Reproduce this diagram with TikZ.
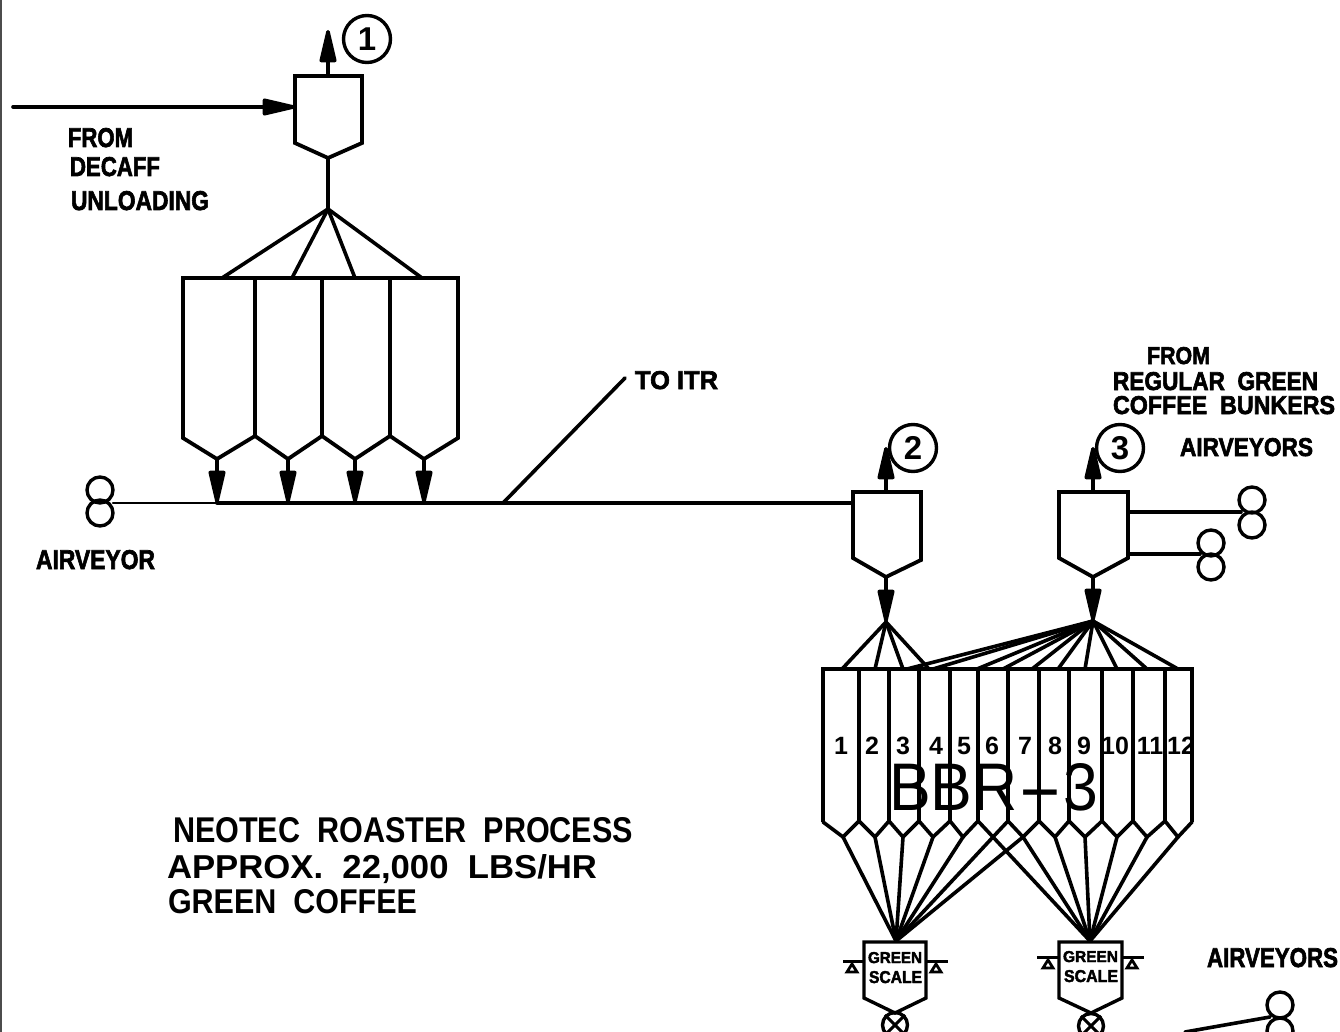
\documentclass[tikz,border=0pt]{standalone}
\usepackage{fontspec}
\usepackage{graphicx}
\usetikzlibrary{arrows.meta}
\setmainfont{Liberation Sans}
\newfontfamily\cadbold[FakeBold=2.5]{Liberation Sans Bold}
\newfontfamily\cadreg{Liberation Sans Bold}
\newfontfamily\cadthin{Liberation Sans}
\tikzset{
  pipe/.style={line width=3.6pt,line join=round,line cap=round},
  thinpipe/.style={line width=2.2pt,line join=round,line cap=round},
  vessel/.style={line width=3.8pt,line join=miter,fill=white},
  flowhead/.style={-{Triangle[length=39pt,width=17pt,round]}},
  txt/.style={anchor=base west,inner sep=0pt,outer sep=0pt,text=black},
  blower/.style={draw,circle,line width=3.4pt,minimum size=26pt,inner sep=0pt},
  tagc/.style={draw,circle,line width=3.4pt,minimum size=47pt,inner sep=0pt,font=\cadreg\fontsize{33}{33}\selectfont},
  bnum/.style={inner sep=0pt,anchor=base,font=\cadreg\fontsize{25}{25}\selectfont},
  weigh/.style={line width=3pt},
  pantri/.style={line width=2.8pt,line join=miter},
  valve/.style={draw,circle,line width=3.4pt,minimum size=25pt,inner sep=0pt},
}
\newcommand{\lbl}[7]{\node[txt] (#1) at (#2,#3) {\resizebox{#4pt}{#5pt}{#6#7}};}
\begin{document}
\begin{tikzpicture}[x=1pt,y=-1pt]
\useasboundingbox (0,0) rectangle (1340,1032);
\clip (0,0) rectangle (1340,1032);
\fill[white] (0,0) rectangle (1340,1032);
\coordinate (bl1) at (0.7,0); \coordinate (bl2) at (0.7,1032);
\draw[line width=1.6pt,black!70] (bl1) -- (bl2);

% ---------- cyclone 1
\coordinate (c1tl) at (295,76);  \coordinate (c1tr) at (362,76);
\coordinate (c1sr) at (362,143); \coordinate (c1t) at (328,158);
\coordinate (c1sl) at (295,143); \coordinate (c1top) at (328,76);
\coordinate (c1up) at (328,30);  \coordinate (c1in) at (13,107);
\coordinate (c1inr) at (295,107);
\coordinate (f1) at (328,209);
\draw[vessel] (c1tl) -- (c1tr) -- (c1sr) -- (c1t) -- (c1sl) -- cycle;
\draw[pipe,flowhead] (c1top) -- (c1up);
\draw[pipe,flowhead] (c1in) -- (c1inr);
\draw[pipe] (c1t) -- (f1);
\node[tagc] (m1) at (367,39) {1};
\foreach \n/\x in {a/222,b/292,c/355,d/422}{
  \coordinate (f1\n) at (\x,278);
  \draw[pipe] (f1) -- (f1\n);
}
% ---------- bins A
\coordinate (b0) at (183,278); \coordinate (b4) at (458,278);
\coordinate (s0) at (183,438); \coordinate (s4) at (458,438);
\coordinate (h1) at (217,459); \coordinate (h2) at (288,459);
\coordinate (h3) at (355,459); \coordinate (h4) at (424,459);
\coordinate (s1) at (255,436); \coordinate (s2) at (322,436); \coordinate (s3) at (390,436);
\coordinate (u1) at (255,278); \coordinate (u2) at (322,278); \coordinate (u3) at (390,278);
\draw[vessel,fill=none] (s0) -- (b0) -- (b4) -- (s4) -- (h4) -- (s3) -- (h3) -- (s2) -- (h2) -- (s1) -- (h1) -- cycle;
\draw[pipe] (u1) -- (s1);
\draw[pipe] (u2) -- (s2);
\draw[pipe] (u3) -- (s3);

% ---------- main conveying line
\coordinate (l0) at (113,503); \coordinate (l1) at (217,503);
\coordinate (l2) at (853,503); \coordinate (itrj) at (503,503);
\coordinate (itre) at (625,378);
\coordinate (l1b) at (288,503); \coordinate (l1c) at (355,503); \coordinate (l1d) at (424,503);
\draw[thinpipe] (l0) -- (l1);
\draw[pipe] (l1) -- (l2);
\draw[pipe] (itrj) -- (itre);
\draw[pipe,flowhead] (h1) -- (l1);
\draw[pipe,flowhead] (h2) -- (l1b);
\draw[pipe,flowhead] (h3) -- (l1c);
\draw[pipe,flowhead] (h4) -- (l1d);
\node[blower] (av1) at (100,490) {};
\node[blower] (av2) at (100,513) {};

% ---------- cyclone 2
\coordinate (c2tl) at (853,492); \coordinate (c2tr) at (921,492);
\coordinate (c2sr) at (921,560); \coordinate (c2t) at (886,577);
\coordinate (c2sl) at (853,558); \coordinate (c2top) at (886,492);
\coordinate (c2up) at (886,447); \coordinate (f2) at (886,622);
\draw[vessel] (c2tl) -- (c2tr) -- (c2sr) -- (c2t) -- (c2sl) -- cycle;
\draw[pipe,flowhead] (c2top) -- (c2up);
\draw[pipe,flowhead] (c2t) -- (f2);
\node[tagc] (m2) at (913,448) {2};

% ---------- cyclone 3
\coordinate (c3tl) at (1059,492); \coordinate (c3tr) at (1128,492);
\coordinate (c3sr) at (1128,558); \coordinate (c3t) at (1093,577);
\coordinate (c3sl) at (1059,558); \coordinate (c3top) at (1093,492);
\coordinate (c3up) at (1093,447); \coordinate (f3) at (1093,621);
\draw[vessel] (c3tl) -- (c3tr) -- (c3sr) -- (c3t) -- (c3sl) -- cycle;
\draw[pipe,flowhead] (c3top) -- (c3up);
\draw[pipe,flowhead] (c3t) -- (f3);
\node[tagc] (m3) at (1120,448) {3};
\coordinate (c3r1) at (1128,512); \coordinate (c3r2) at (1128,554);
\coordinate (av3j) at (1241,512); \coordinate (av5j) at (1200,554);
\draw[pipe] (c3r1) -- (av3j);
\draw[pipe] (c3r2) -- (av5j);
\node[blower] (av3) at (1252,500) {};
\node[blower] (av4) at (1252,525) {};
\node[blower] (av5) at (1211,543) {};
\node[blower] (av6) at (1211,567) {};

% ---------- fans into BBR-3
\foreach \i/\x in {1/842,2/875,3/903,4/929}{
  \coordinate (g\i) at (\x,669);
  \draw[pipe] (f2) -- (g\i);
}
\foreach \i/\x in {1/907,2/933,3/977,4/1003,5/1032,6/1058,7/1085,8/1117,9/1147,10/1178}{
  \coordinate (k\i) at (\x,669);
  \draw[pipe] (f3) -- (k\i);
}

% ---------- BBR-3 bins
\coordinate (bt0) at (823,669); \coordinate (bt12) at (1192,669);
\coordinate (bs0) at (823,822); \coordinate (bs12) at (1192,822);
\draw[vessel,fill=none] (bs0) -- (bt0) -- (bt12) -- (bs12);
\foreach \i/\x in {1/859,2/889,3/919,4/950,5/978,6/1008,7/1039,8/1069,9/1102,10/1133,11/1165}{
  \coordinate (bt\i) at (\x,669);
  \coordinate (bs\i) at (\x,821);
  \draw[pipe] (bt\i) -- (bs\i);
}
\foreach \i/\x in {1/843,2/875,3/903,4/933,5/963,6/993,7/1023,8/1055,9/1085,10/1117,11/1147,12/1178}{
  \coordinate (bh\i) at (\x,837);
}
\foreach \i [evaluate=\i as \p using int(\i-1)] in {1,...,12}{
  \draw[pipe] (bs\p) -- (bh\i) -- (bs\i);
}
% ---------- chutes to scales
\coordinate (sc1) at (896,941); \coordinate (sc2) at (1090,941);
\foreach \i in {1,...,7}{ \draw[pipe] (bh\i) -- (sc1); }
\foreach \i in {6,...,12}{ \draw[pipe] (bh\i) -- (sc2); }

% ---------- scale 1
\coordinate (s1tl) at (864,942); \coordinate (s1tr) at (926,942);
\coordinate (s1sr) at (926,998); \coordinate (s1t) at (895,1013);
\coordinate (s1sl) at (864,998);
\draw[vessel,line width=3.4pt] (s1tl) -- (s1tr) -- (s1sr) -- (s1t) -- (s1sl) -- cycle;
\coordinate (s1b1) at (843,961); \coordinate (s1b2) at (864,961);
\coordinate (s1b3) at (926,961); \coordinate (s1b4) at (948,961);
\draw[weigh] (s1b1) -- (s1b2);
\draw[weigh] (s1b3) -- (s1b4);
\draw[pantri] (852,964) -- (857,972) -- (847,972) -- cycle;
\draw[pantri] (936,964) -- (941,972) -- (931,972) -- cycle;
\lbl{sg1}{868}{963}{54}{11}{\cadbold}{GREEN}
\lbl{ss1}{869}{983}{53}{12}{\cadbold}{SCALE}
\node[valve] (x1) at (895,1025) {};
\draw[line width=3pt] (x1.north west) -- (x1.south east);
\draw[line width=3pt] (x1.north east) -- (x1.south west);

% ---------- scale 2
\coordinate (s2tl) at (1059,942); \coordinate (s2tr) at (1122,942);
\coordinate (s2sr) at (1122,998); \coordinate (s2t) at (1091,1013);
\coordinate (s2sl) at (1059,998);
\draw[vessel,line width=3.4pt] (s2tl) -- (s2tr) -- (s2sr) -- (s2t) -- (s2sl) -- cycle;
\coordinate (s2b1) at (1037,957); \coordinate (s2b2) at (1059,957);
\coordinate (s2b3) at (1122,957); \coordinate (s2b4) at (1144,957);
\draw[weigh] (s2b1) -- (s2b2);
\draw[weigh] (s2b3) -- (s2b4);
\draw[pantri] (1048,960) -- (1053,968) -- (1043,968) -- cycle;
\draw[pantri] (1132,960) -- (1137,968) -- (1127,968) -- cycle;
\lbl{sg2}{1063}{962}{55}{11}{\cadbold}{GREEN}
\lbl{ss2}{1064}{982}{54}{12}{\cadbold}{SCALE}
\node[valve] (x2) at (1091,1026) {};
\draw[line width=3pt] (x2.north west) -- (x2.south east);
\draw[line width=3pt] (x2.north east) -- (x2.south west);

% ---------- lower airveyors
\coordinate (lv0) at (1185,1032); \coordinate (lv1) at (1270,1017);
\draw[pipe] (lv0) -- (lv1);
\node[blower] (av7) at (1280,1005) {};
\node[blower] (av8) at (1280,1031) {};

% ---------- bin numbers
\foreach \t/\x in {1/841,2/872,3/903,4/936,5/964,6/992,7/1025,8/1055,9/1084,10/1115,11/1150,12/1181}{
  \node[bnum] (n\t) at (\x,754) {\t};
}
\lbl{bbr}{889}{810}{209}{47}{\cadthin}{BBR\scalebox{2.2}[1]{-}3}

% ---------- labels
\lbl{t1}{68}{147}{65}{19}{\cadbold}{FROM}
\lbl{t2}{70}{176}{90}{19}{\cadbold}{DECAFF}
\lbl{t3}{71}{210}{138}{19}{\cadbold}{UNLOADING}
\lbl{t4}{36}{569}{119}{19}{\cadbold}{AIRVEYOR}
\lbl{t5}{635}{389}{83}{18}{\cadbold}{TO\ ITR}
\lbl{t6}{1147}{364}{63}{17}{\cadbold}{FROM}
\lbl{t7}{1113}{390}{205}{18}{\cadbold}{REGULAR\ \ GREEN}
\lbl{t8}{1113}{414}{222}{18}{\cadbold}{COFFEE\ \ BUNKERS}
\lbl{t9}{1180}{456}{133}{18}{\cadbold}{AIRVEYORS}
\lbl{t10}{1207}{967}{131}{19}{\cadbold}{AIRVEYORS}
\lbl{t11}{173}{842}{460}{25}{\cadreg}{NEOTEC\ \ ROASTER\ \ PROCESS}
\lbl{t12}{167}{878}{430}{24}{\cadreg}{APPROX.\ \ 22,000\ \ LBS/HR}
\lbl{t13}{168}{913}{249}{24}{\cadreg}{GREEN\ \ COFFEE}
\end{tikzpicture}
\end{document}
